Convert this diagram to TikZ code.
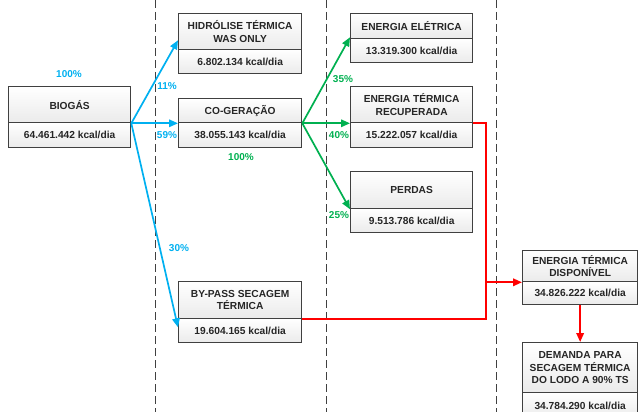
\documentclass[tikz,border=0pt]{standalone}
\usepackage{fontspec}
\setmainfont{Liberation Sans}
\usetikzlibrary{arrows.meta}

\definecolor{flowblue}{HTML}{00B0F0}
\definecolor{flowgreen}{HTML}{00B050}
\definecolor{flowred}{HTML}{FF0000}
\definecolor{boxline}{HTML}{404040}
\definecolor{divline}{HTML}{404040}

\tikzset{
  boxpart/.style={draw=boxline, line width=1.3pt, top color=white, bottom color=gray!16,
    inner sep=0pt, align=center, text=black!85,
    font=\fontsize{10.2}{12.6}\selectfont\bfseries},
  flowtip/.style={-{Triangle[length=9pt,width=7.5pt]}},
  blueflow/.style={flowtip, draw=flowblue, line width=1.7pt},
  greenflow/.style={flowtip, draw=flowgreen, line width=1.7pt},
  redflow/.style={draw=flowred, line width=1.9pt},
  pct/.style={font=\fontsize{10}{12}\selectfont\bfseries, inner sep=0pt},
  bluepct/.style={pct, text=flowblue},
  greenpct/.style={pct, text=flowgreen},
  stagediv/.style={draw=divline, line width=0.85pt, dash pattern=on 8pt off 4pt},
}

% #1 name, #2 left x, #3 width, #4 top y, #5 split y, #6 bottom y, #7 title, #8 value
\newcommand{\stagebox}[8]{%
  \node[boxpart, anchor=north west, minimum width=#3pt, minimum height={(#5-#4)*1pt}]
    (#1) at (#2,#4) {#7};
  \node[boxpart, anchor=north west, minimum width=#3pt, minimum height={(#6-#5)*1pt}]
    (#1v) at (#2,#5) {#8};
}

\begin{document}
\begin{tikzpicture}[x=1pt,y=-1pt]
  \useasboundingbox (0,0) rectangle (638,412);

  % stage separators
  \coordinate (d1t) at (155,0);   \coordinate (d1b) at (155,412);
  \coordinate (d2t) at (326,0);   \coordinate (d2b) at (326,412);
  \coordinate (d3t) at (496,0);   \coordinate (d3b) at (496,412);
  \draw[stagediv] (d1t) -- (d1b);
  \draw[stagediv] (d2t) -- (d2b);
  \draw[stagediv] (d3t) -- (d3b);

  % energy stages
  \stagebox{bio}{8}{122}{86}{122}{147}{BIOGÁS}{64.461.442 kcal/dia}
  \stagebox{hid}{178}{123}{13}{49}{73}{HIDRÓLISE TÉRMICA\\WAS ONLY}{6.802.134 kcal/dia}
  \stagebox{cog}{178}{123}{98}{122}{147}{CO-GERAÇÃO}{38.055.143 kcal/dia}
  \stagebox{byp}{178}{123}{281}{318}{342}{BY-PASS SECAGEM\\TÉRMICA}{19.604.165 kcal/dia}
  \stagebox{ele}{350}{122}{13}{38}{62}{ENERGIA ELÉTRICA}{13.319.300 kcal/dia}
  \stagebox{rec}{350}{122}{86}{122}{147}{ENERGIA TÉRMICA\\RECUPERADA}{15.222.057 kcal/dia}
  \stagebox{per}{350}{122}{171}{208}{232}{PERDAS}{9.513.786 kcal/dia}
  \stagebox{dis}{522}{115}{250}{281}{304}{ENERGIA TÉRMICA\\DISPONÍVEL}{34.826.222 kcal/dia}
  \stagebox{dem}{522}{115}{342}{392}{418}{DEMANDA PARA\\SECAGEM TÉRMICA\\DO LODO A 90\% TS}{34.784.290 kcal/dia}

  % biogas split
  \draw[blueflow] (bio.south east) -- ([yshift=10pt]hid.south west);
  \draw[blueflow] (bio.south east) -- (cog.south west);
  \draw[blueflow] (bio.south east) -- ([yshift=-8pt]byp.south west);

  % co-generation split
  \draw[greenflow] (cog.south east) -- ([yshift=2pt]ele.south west);
  \draw[greenflow] (cog.south east) -- (rec.south west);
  \draw[greenflow] (cog.south east) -- (per.south west);

  % thermal energy collection
  \coordinate (rj) at ([xshift=13pt]rec.south east);
  \draw[redflow] (rec.south east) -- (rj) |- (byp.south east);
  \draw[redflow, flowtip] (dis.south west -| rj) -- (dis.south west);
  \draw[redflow, flowtip] (disv.south) -- (dem.north);

  % shares
  \node[bluepct] (p100b) at (69,74) {100\%};
  \node[bluepct] (p11) at (167,86) {11\%};
  \node[bluepct] (p59) at (167,135) {59\%};
  \node[bluepct] (p30) at (179,248) {30\%};
  \node[greenpct] (p100g) at (241,157) {100\%};
  \node[greenpct] (p35) at (343,79) {35\%};
  \node[greenpct] (p40) at (339,135) {40\%};
  \node[greenpct] (p25) at (339,215) {25\%};
\end{tikzpicture}
\end{document}
